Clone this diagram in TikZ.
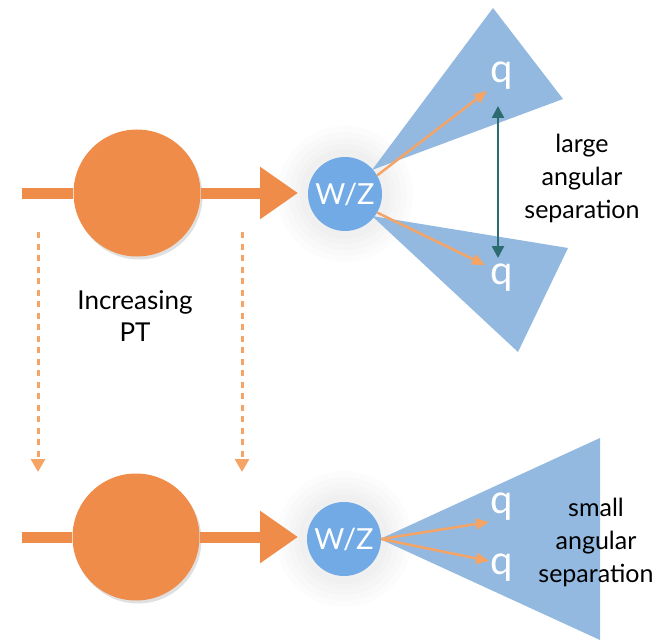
\documentclass[tikz,border=0pt]{standalone}
\usepackage{fontspec}
\setmainfont{Lato}
\usetikzlibrary{arrows.meta}
\definecolor{orng}{HTML}{F08C4A}
\definecolor{lorng}{HTML}{F5A466}
\definecolor{cone}{HTML}{8DB5DE}
\definecolor{wz}{HTML}{72AAE6}
\definecolor{teal}{HTML}{2C6B70}
\tikzset{
  ball/.style={circle, fill=orng, minimum size=127pt, inner sep=0pt},
  wzball/.style={circle, fill=wz, minimum size=74pt, inner sep=0pt, text=white, font=\fontsize{29}{29}\selectfont},
  fatarrow/.style={draw=orng, line width=11pt, -{Triangle[width=50pt,length=38pt]}},
  fatline/.style={draw=orng, line width=11pt},
  dasharrow/.style={draw=lorng, line width=3pt, dash pattern=on 6pt off 5.5pt, -{Triangle[width=14pt,length=13pt]}},
  quark/.style={text=white, font=\fontsize{40}{40}\selectfont, inner sep=0pt},
  qarrow/.style={draw=lorng, line width=2.5pt, -{Triangle[width=11pt,length=13pt]}},
  label/.style={align=center, font=\fontsize{25}{33}\selectfont, text=black},
  conefill/.style={fill=cone, opacity=0.95},
  glow/.style={fill=black, opacity=0.012},
}
\begin{document}
\begin{tikzpicture}[x=1pt,y=-1pt]
\useasboundingbox (0,0) rectangle (657,642);

% ---------- top row ----------
\foreach \r in {68,62,56,50,45} {\fill[glow] (345,194) circle (\r);}
\fill[conefill] (372,170) -- (493,8) -- (563,99) -- cycle;
\fill[conefill] (372,216) -- (568,248) -- (518,352) -- cycle;

\fill[black,opacity=0.12] (139,196) circle (63.5);
\node[ball] (b1) at (137,193) {};
\node[wzball] (w1) at (345,194) {W/Z};
\coordinate (s1) at (22,193);
\coordinate (t1) at (298,193);
\draw[fatline] (s1) -- (b1.west);
\draw[fatarrow] (b1.east) -- (t1);

\node[quark] (q1) at (502,76) {q};
\node[quark] (q2) at (502,278) {q};
\coordinate (qa1) at (487,91);
\coordinate (qa2) at (485,265);
\draw[qarrow] (w1.30) -- (qa1);
\draw[qarrow] (w1.-30) -- (qa2);

\coordinate (sepT) at (498,106);
\coordinate (sepB) at (498,258);
\draw[teal, line width=2.5pt, {Triangle[width=12pt,length=12pt]}-{Triangle[width=12pt,length=12pt]}] (sepT) -- (sepB);
\node[label] (lab1) at (582,178) {large\\angular\\separation};

% ---------- dashed arrows & label ----------
\coordinate (d1s) at (38,232);
\coordinate (d1e) at (38,472);
\coordinate (d2s) at (242,232);
\coordinate (d2e) at (242,472);
\draw[dasharrow] (d1s) -- (d1e);
\draw[dasharrow] (d2s) -- (d2e);
\node[label, font=\fontsize{26}{32}\selectfont] (inc) at (135,316) {Increasing\\PT};

% ---------- bottom row ----------
\foreach \r in {68,62,56,50,45} {\fill[glow] (344,539) circle (\r);}
\fill[conefill] (380,539) -- (600,438) -- (600,640) -- cycle;

\fill[black,opacity=0.12] (138,540) circle (63.5);
\node[ball] (b2) at (136,537) {};
\node[wzball] (w2) at (344,539) {W/Z};
\coordinate (s2) at (22,537);
\coordinate (t2) at (298,537);
\draw[fatline] (s2) -- (b2.west);
\draw[fatarrow] (b2.east) -- (t2);

\node[quark] (q3) at (502,507) {q};
\node[quark] (q4) at (502,568) {q};
\coordinate (qa3) at (489,522);
\coordinate (qa4) at (489,561);
\draw[qarrow] (w2.east) -- (qa3);
\draw[qarrow] (w2.east) -- (qa4);
\node[label] (lab2) at (596,542) {small\\angular\\separation};
\end{tikzpicture}
\end{document}
